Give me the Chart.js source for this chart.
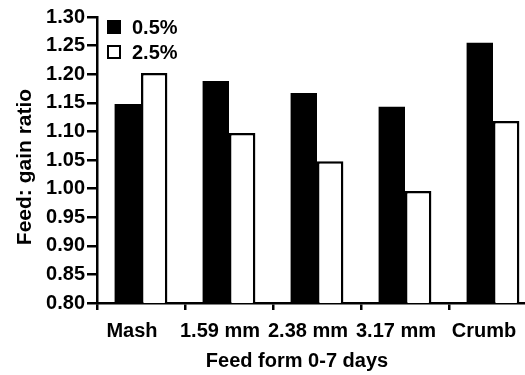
<!DOCTYPE html>
<html>
<head>
<meta charset="utf-8">
<script src="https://cdn.jsdelivr.net/npm/chart.js@4"></script>
<style>
  html, body { margin: 0; padding: 0; background: #fff; overflow: hidden; }
  #wrap { width: 540px; height: 375px; }
</style>
</head>
<body>
<div id="wrap"><canvas id="feed-chart" width="540" height="375"></canvas></div>
<script>
const feedForms = ['Mash', '1.59 mm', '2.38 mm', '3.17 mm', 'Crumb'];
const low = [1.148, 1.188, 1.167, 1.143, 1.255];   // 0.5%
const high = [1.202, 1.097, 1.048, 0.996, 1.118];  // 2.5%
const seriesNames = ['0.5%', '2.5%'];
const xTitle = 'Feed form 0-7 days';
const yTitle = 'Feed: gain ratio';

const FONT = 'Liberation Sans, Arial, Helvetica, sans-serif';

// legend inside the plot (top left) plus both axis titles, which sit off centre in the original
const extras = {
  id: 'extras',
  afterDraw(chart) {
    const ctx = chart.ctx;
    ctx.save();
    ctx.font = 'bold 20px ' + FONT;
    ctx.textBaseline = 'middle';
    chart.data.datasets.forEach((ds, i) => {
      const y = 27 + i * 25;
      ctx.fillStyle = ds.backgroundColor;
      ctx.fillRect(108, y - 6, 12, 12);
      ctx.strokeStyle = '#000';
      ctx.lineWidth = 2;
      ctx.strokeRect(108, y - 6, 12, 12);
      ctx.fillStyle = '#000';
      ctx.fillText(ds.label, 132, y + 1);
    });
    ctx.textAlign = 'center';
    ctx.fillText(xTitle, 297, 361);

    ctx.font = 'bold 21px ' + FONT;
    ctx.translate(25, 167);
    ctx.rotate(-Math.PI / 2);
    ctx.fillText(yTitle, 0, 0);
    ctx.restore();
  }
};

const ctx = document.getElementById('feed-chart').getContext('2d');
new Chart(ctx, {
  type: 'bar',
  data: {
    labels: feedForms,
    datasets: [
      {
        label: seriesNames[0],
        data: low,
        backgroundColor: '#000',
        borderColor: '#000',
        borderWidth: 0,
        barPercentage: 1,
        categoryPercentage: 0.6
      },
      {
        label: seriesNames[1],
        data: high,
        backgroundColor: '#fff',
        borderColor: '#000',
        borderWidth: 2.5,
        barPercentage: 1,
        categoryPercentage: 0.6
      }
    ]
  },
  options: {
    responsive: false,
    animation: false,
    layout: { padding: { top: 17, right: 3, left: 0, bottom: 0 } },
    plugins: {
      legend: { display: false },
      tooltip: { enabled: false }
    },
    scales: {
      x: {
        offset: true,
        afterFit: (s) => { s.height = 72; },
        border: { display: true, color: '#000', width: 2.5 },
        grid: {
          offset: true,
          drawOnChartArea: false,
          color: '#000',
          lineWidth: 2.5,
          tickLength: 7
        },
        ticks: {
          color: '#000',
          padding: 9,
          labelOffset: -9,
          maxRotation: 0,
          autoSkip: false,
          font: { family: FONT, size: 20, weight: 'bold' }
        },
        title: { display: false }
      },
      y: {
        min: 0.8,
        max: 1.3,
        afterFit: (s) => { s.width = 97; },
        border: { display: true, color: '#000', width: 2.5 },
        grid: {
          drawOnChartArea: false,
          color: '#000',
          lineWidth: 2.5,
          tickLength: 10
        },
        ticks: {
          stepSize: 0.05,
          color: '#000',
          padding: 2,
          font: { family: FONT, size: 20, weight: 'bold' },
          callback: (v) => v.toFixed(2)
        },
        title: { display: false }
      }
    }
  },
  plugins: [extras]
});
</script>
</body>
</html>
